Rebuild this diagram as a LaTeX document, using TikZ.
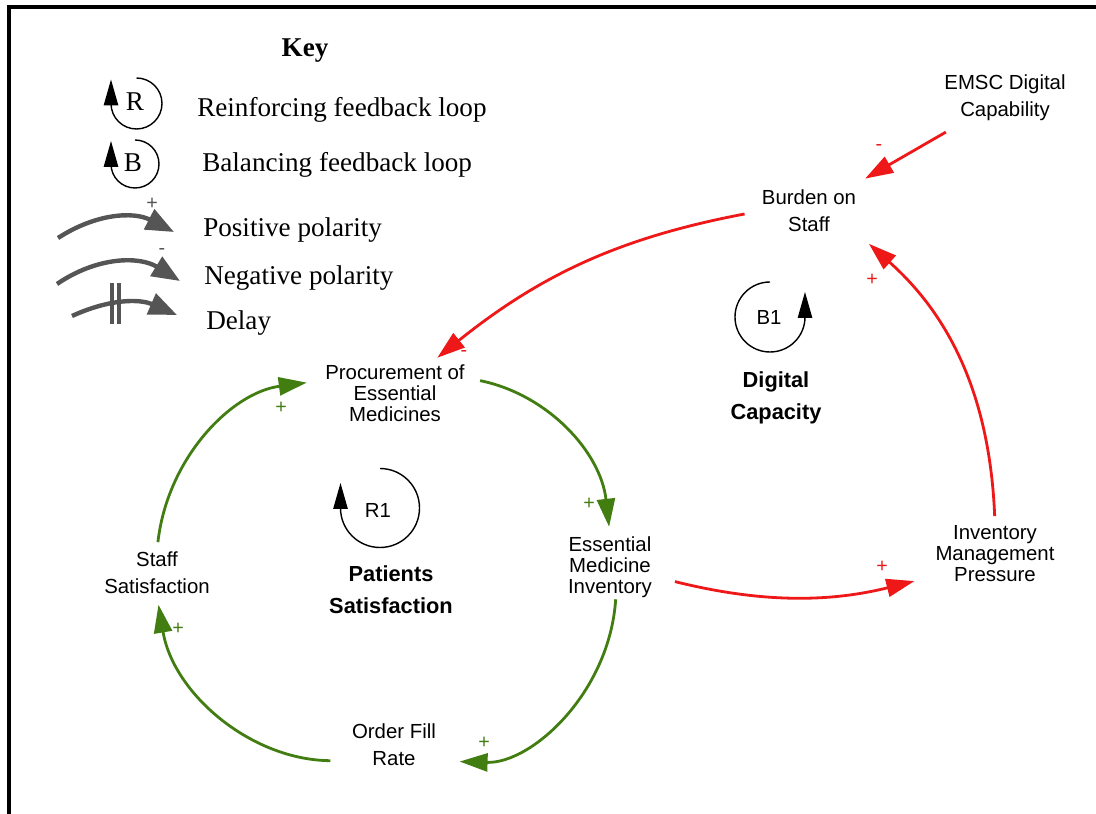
\documentclass[tikz,border=0pt]{standalone}
\usepackage{fontspec}
\setmainfont{Liberation Sans}
\newfontfamily\keyfont{Liberation Serif}
\usepackage{tikz}
\usetikzlibrary{arrows.meta}
\definecolor{cldgreen}{RGB}{66,125,18}
\definecolor{cldred}{RGB}{238,24,24}
\definecolor{keygray}{RGB}{85,85,85}
\tikzset{var/.style={align=center, inner sep=1pt, font=\fontsize{14.5}{15}\selectfont}}
\tikzset{var2/.style={var, font=\fontsize{14.5}{19.5}\selectfont}}
\tikzstyle{gedge}=[->, draw=cldgreen, line width=0.7mm]
\tikzstyle{redge}=[->, draw=cldred, line width=0.7mm]
\tikzstyle{gsign}=[text=cldgreen, inner sep=0pt, font=\fontsize{14}{14}\selectfont]
\tikzstyle{rsign}=[text=cldred, inner sep=0pt, font=\fontsize{14}{14}\selectfont]
\tikzstyle{loopar}=[-{Triangle[length=6.5mm,width=3.6mm]}, line width=0.35mm]
\tikzstyle{looplabel}=[align=center, font=\bfseries\fontsize{15.5}{23}\selectfont]
\tikzstyle{keyar}=[-{Triangle[length=7mm,width=5.5mm]}, draw=keygray, line width=1.1mm]
\tikzstyle{keysign}=[text=keygray, inner sep=0pt, font=\fontsize{14}{14}\selectfont]
\tikzstyle{keytext}=[anchor=base west, inner sep=0pt, font=\keyfont\fontsize{19.3}{19.3}\selectfont]

\begin{document}
\begin{tikzpicture}[x=0.25mm, y=0.25mm, >={Triangle[length=7mm,width=4.5mm]}]
\useasboundingbox (0,0) rectangle (1096,814);
\draw[line width=1mm] (9,0) -- (9,807) -- (1100,807);

\node[anchor=base, inner sep=0pt, font=\keyfont\bfseries\fontsize{19.3}{19.3}\selectfont] (key) at (305,757) {Key};
\node[inner sep=0pt, font=\keyfont\fontsize{19.3}{19.3}\selectfont] (keyr) at (135,712) {R};
\draw[loopar] (136.5,736) arc[start angle=90, end angle=-180, radius=25.5] -- ++(0,24);
\node[inner sep=0pt, font=\keyfont\fontsize{19.3}{19.3}\selectfont] (keyb) at (133,651) {B};
\draw[loopar] (135,674) arc[start angle=90, end angle=-180, radius=24] -- ++(0,23);
\node[keytext] (reinf) at (197,697) {Reinforcing feedback loop};
\node[keytext] (balan) at (202,642) {Balancing feedback loop};
\node[keytext] (posit) at (203,577) {Positive polarity};
\node[keytext] (negat) at (204,529) {Negative polarity};
\node[keytext] (delay) at (206,484) {Delay};
\coordinate (posa) at (58,576);
\coordinate (posb) at (174,582);
\coordinate (nega) at (57,530);
\coordinate (negb) at (180,533);
\coordinate (dela) at (72,498);
\coordinate (delb) at (177,499);
\draw[keyar] (posa) to[bend left=30] (posb);
\draw[keyar] (nega) to[bend left=33] (negb);
\draw[keyar] (dela) to[bend left=24] (delb);
\draw[keygray, line width=1mm] (112,490) -- (112,531) (119,490) -- (119,531);
\node[keysign] (kplus) at (152,610) {+};
\node[keysign] (kminus) at (162,562) {-};

\node[var2] (emsc) at (1005,716) {EMSC Digital\\Capability};
\node[var2] (burden) at (809,603) {Burden on\\Staff};
\node[var] (proc) at (395,421) {Procurement of\\Essential\\Medicines};
\node[var] (emi) at (610,247) {Essential\\Medicine\\Inventory};
\node[var] (imp) at (995,260) {Inventory\\Management\\Pressure};
\node[var2] (ofr) at (394,69) {Order Fill\\Rate};
\node[var2] (staff) at (157,241) {Staff\\Satisfaction};

\node[font=\fontsize{14.5}{15}\selectfont] (r1) at (378,304) {R1};
\draw[loopar] (380,345.5) arc[start angle=90, end angle=-180, radius=39.5] -- ++(0,25);
\node[looplabel] (patsat) at (391,224) {Patients\\Satisfaction};
\node[font=\fontsize{14.5}{15}\selectfont] (b1) at (769,497) {B1};
\draw[loopar] (770,532) arc[start angle=90, end angle=360, radius=35] -- ++(0,25);
\node[looplabel] (digcap) at (776,416) {Digital\\Capacity};

\draw[redge, shorten <=4.6mm, shorten >=4.75mm] (emsc) -- (burden);
\draw[redge, shorten <=4mm, shorten >=2mm] (burden.west) to[bend right=14] (proc.40);
\draw[redge, shorten <=5.5mm, shorten >=5mm] (emi.-12) to[bend right=14] (imp.200);
\draw[redge, shorten <=2mm, shorten >=3.75mm] (imp.north) to[bend right=23] (burden.south east);
\draw[gedge, shorten <=3.5mm, shorten >=2mm] (proc.12) to[bend left=36] (emi.north);
\draw[gedge, shorten >=5.5mm] (emi.-80) to[bend left=44] (ofr.-20);
\draw[gedge, shorten <=5mm, shorten >=2.25mm] (ofr.200) to[bend left=40] (staff.south);
\draw[gedge, shorten <=2mm, shorten >=4.25mm] (staff.north) to[bend left=38] (proc.170);

\node[rsign] (s1) at (879,666) {-};
\node[rsign] (s2) at (464,460) {-};
\node[rsign] (s3) at (882,247) {+};
\node[rsign] (s4) at (872,534) {+};
\node[gsign] (s5) at (589,310) {+};
\node[gsign] (s6) at (484,71) {+};
\node[gsign] (s7) at (178,185) {+};
\node[gsign] (s8) at (281,406) {+};
\end{tikzpicture}
\end{document}
